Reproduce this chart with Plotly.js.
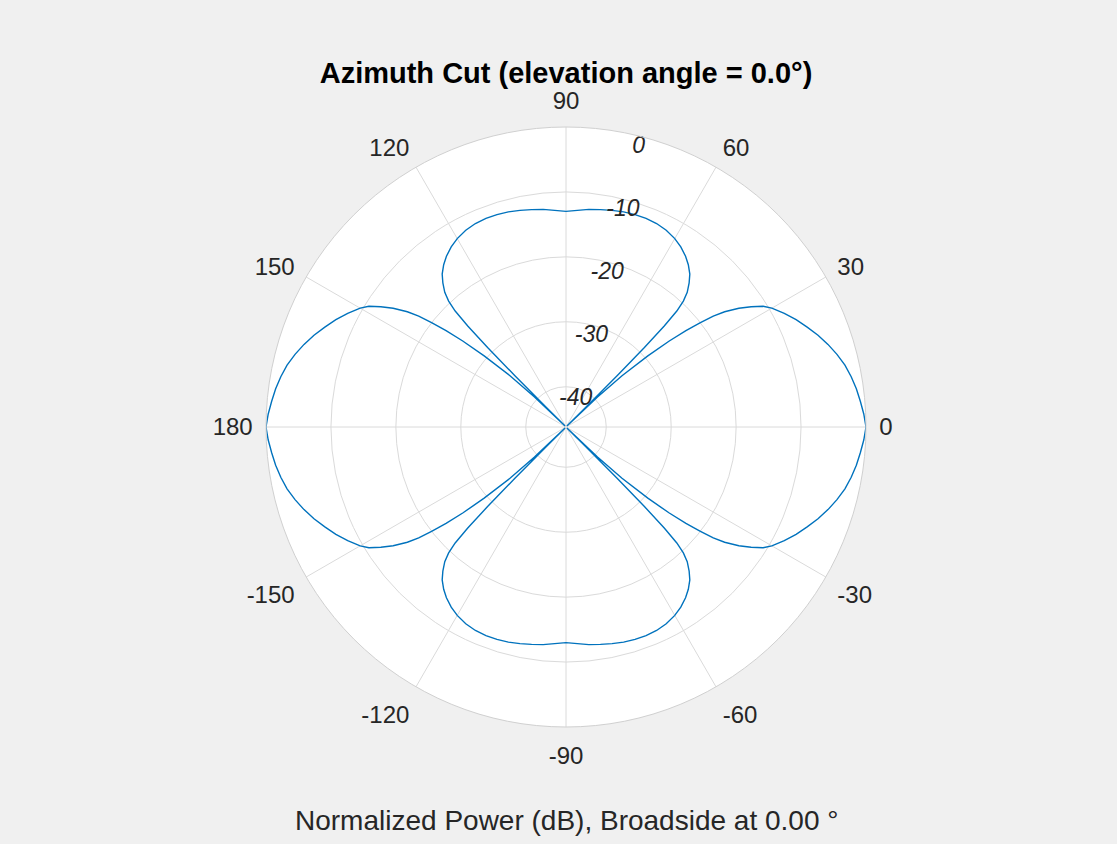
<!DOCTYPE html>
<html><head><meta charset="utf-8">
<script src="https://cdn.plot.ly/plotly-3.0.1.min.js"></script>
<style>html,body{margin:0;padding:0;background:#f0f0f0;} #chart{width:1117px;height:844px;}</style>
</head><body><div id="chart"></div>
<script>
// Azimuth angle (deg) and normalized power (dB), quadrant by quadrant
const angleQ1 = [0, 2.5, 5, 7.5, 10, 12.5, 15, 17.5, 20, 22.5, 25, 27.5, 30, 31.5, 33, 34.5, 36, 37, 37.8, 38.8, 39.8, 41, 42.5, 43.6, 44.5, 44.9, 45.1, 45.4, 45.8, 46.3, 47, 48, 49.5, 51, 53, 55, 57.5, 60, 63, 66, 69, 72, 75, 78, 81, 84, 87, 90];
const powerQ1 = [0, -0.3, -0.7, -1.1, -1.6, -2.2, -3.0, -3.9, -4.9, -6.0, -7.1, -8.3, -9.6, -10.6, -12.2, -13.9, -16.0, -17.8, -20.0, -22.5, -25.5, -29.5, -34.5, -39.5, -46, -42, -35, -29, -24.5, -21.5, -19.7, -18.3, -17.0, -15.9, -14.9, -14.1, -13.3, -12.7, -12.2, -11.9, -11.8, -11.8, -11.9, -12.1, -12.3, -12.5, -12.8, -13.0];
const angleQ2 = [93, 96, 99, 102, 105, 108, 111, 114, 117, 120, 122.5, 125, 127, 129, 130.5, 132, 133, 133.7, 134.2, 134.6, 134.9, 135.1, 135.5, 136.4, 137.5, 139, 140.2, 141.2, 142.2, 143, 144, 145.5, 147, 148.5, 150, 152.5, 155, 157.5, 160, 162.5, 165, 167.5, 170, 172.5, 175, 177.5, 180];
const powerQ2 = [-12.8, -12.5, -12.3, -12.1, -11.9, -11.8, -11.8, -11.9, -12.2, -12.7, -13.3, -14.1, -14.9, -15.9, -17.0, -18.3, -19.7, -21.5, -24.5, -29, -35, -42, -46, -39.5, -34.5, -29.5, -25.5, -22.5, -20.0, -17.8, -16.0, -13.9, -12.2, -10.6, -9.6, -8.3, -7.1, -6.0, -4.9, -3.9, -3.0, -2.2, -1.6, -1.1, -0.7, -0.3, 0];
const angleQ3 = [182.5, 185, 187.5, 190, 192.5, 195, 197.5, 200, 202.5, 205, 207.5, 210, 211.5, 213, 214.5, 216, 217, 217.8, 218.8, 219.8, 221, 222.5, 223.6, 224.5, 224.9, 225.1, 225.4, 225.8, 226.3, 227, 228, 229.5, 231, 233, 235, 237.5, 240, 243, 246, 249, 252, 255, 258, 261, 264, 267, 270];
const powerQ3 = [-0.3, -0.7, -1.1, -1.6, -2.2, -3.0, -3.9, -4.9, -6.0, -7.1, -8.3, -9.6, -10.6, -12.2, -13.9, -16.0, -17.8, -20.0, -22.5, -25.5, -29.5, -34.5, -39.5, -46, -42, -35, -29, -24.5, -21.5, -19.7, -18.3, -17.0, -15.9, -14.9, -14.1, -13.3, -12.7, -12.2, -11.9, -11.8, -11.8, -11.9, -12.1, -12.3, -12.5, -12.8, -13.0];
const angleQ4 = [273, 276, 279, 282, 285, 288, 291, 294, 297, 300, 302.5, 305, 307, 309, 310.5, 312, 313, 313.7, 314.2, 314.6, 314.9, 315.1, 315.5, 316.4, 317.5, 319, 320.2, 321.2, 322.2, 323, 324, 325.5, 327, 328.5, 330, 332.5, 335, 337.5, 340, 342.5, 345, 347.5, 350, 352.5, 355, 357.5, 360];
const powerQ4 = [-12.8, -12.5, -12.3, -12.1, -11.9, -11.8, -11.8, -11.9, -12.2, -12.7, -13.3, -14.1, -14.9, -15.9, -17.0, -18.3, -19.7, -21.5, -24.5, -29, -35, -42, -46, -39.5, -34.5, -29.5, -25.5, -22.5, -20.0, -17.8, -16.0, -13.9, -12.2, -10.6, -9.6, -8.3, -7.1, -6.0, -4.9, -3.9, -3.0, -2.2, -1.6, -1.1, -0.7, -0.3, 0];

const angleTickVals = [0, 30, 60, 90, 120, 150, 180, 210, 240, 270, 300, 330];
const angleTickText = ['0', '30', '60', '90', '120', '150', '180', '-150', '-120', '-90', '-60', '-30'];
const radialTickVals = [-40, -30, -20, -10, 0];
const radialTickText = ['-40', '-30', '-20', '-10', '0'];
const radialLabelAngle = 76;
const radialRange = [-46.2, 0];
const titleText = 'Azimuth Cut (elevation angle = 0.0°)';
const captionText = 'Normalized Power (dB), Broadside at 0.00 °';

const theta = angleQ1.concat(angleQ2, angleQ3, angleQ4);
const r = powerQ1.concat(powerQ2, powerQ3, powerQ4);

const W = 1117, H = 844;
const cx = 566, cy = 427, R = 300;

const trace = {
  type: 'scatterpolar', mode: 'lines', theta: theta, r: r,
  line: {color: '#0072BD', width: 1.4},
  hoverinfo: 'skip', showlegend: false
};

// radial tick labels, placed through the polar scales at the labelling angle
const rLabels = {
  type: 'scatterpolar', mode: 'text',
  theta: radialTickVals.map(() => radialLabelAngle), r: radialTickVals, text: radialTickText,
  textposition: 'bottom center', cliponaxis: false,
  textfont: {family: 'Liberation Sans, Arial, sans-serif', size: 23, color: '#262626', style: 'italic'},
  hoverinfo: 'skip', showlegend: false
};

const layout = {
  width: W, height: H,
  margin: {l: 0, r: 0, t: 0, b: 0},
  paper_bgcolor: '#f0f0f0',
  font: {family: 'Liberation Sans, Arial, sans-serif', color: '#262626', size: 24},
  title: {text: '<b>' + titleText + '</b>', x: cx / W, xanchor: 'center', y: 1 - 73 / H, yanchor: 'middle',
          font: {family: 'Liberation Sans, Arial, sans-serif', size: 29, color: '#000000'}},
  polar: {
    domain: {x: [(cx - R) / W, (cx + R) / W], y: [1 - (cy + R) / H, 1 - (cy - R) / H]},
    bgcolor: '#ffffff',
    angularaxis: {
      direction: 'counterclockwise', rotation: 0, thetaunit: 'degrees',
      tickmode: 'array', tickvals: angleTickVals, ticktext: angleTickText,
      ticks: 'outside', ticklen: 8, tickcolor: 'rgba(0,0,0,0)',
      showline: true, linecolor: '#d0d0d0', linewidth: 1,
      showgrid: true, gridcolor: '#dadada', gridwidth: 1,
      tickfont: {size: 24, color: '#262626'}
    },
    radialaxis: {
      range: radialRange, angle: 80,
      tickmode: 'array', tickvals: radialTickVals, showticklabels: false,
      ticks: '', showline: false, showgrid: true, gridcolor: '#dadada', gridwidth: 1
    }
  },
  annotations: [{
    text: captionText, xref: 'paper', yref: 'paper', x: cx / W, y: 1 - 820 / H,
    xanchor: 'center', yanchor: 'middle', showarrow: false,
    font: {size: 28, color: '#262626'}
  }]
};

Plotly.newPlot('chart', [trace, rLabels], layout, {staticPlot: true, displayModeBar: false});
</script>
</body></html>
